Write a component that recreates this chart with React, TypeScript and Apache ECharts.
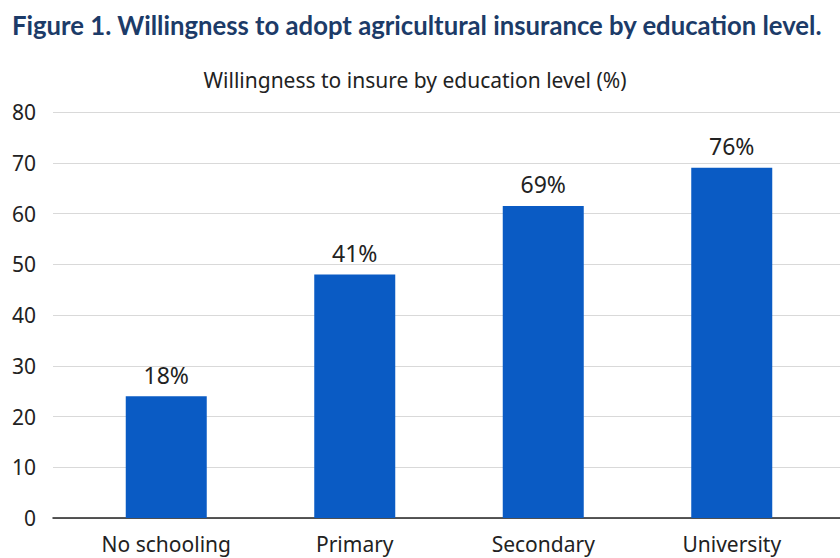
import React, { useEffect, useRef } from "react";
import * as echarts from "echarts";

const categories = ["No schooling", "Primary", "Secondary", "University"];
const barValues = [24, 48, 61.5, 69];
const barLabels = ["18%", "41%", "69%", "76%"];
const yMin = 0;
const yMax = 80;
const yInterval = 10;
const titleText = "Figure 1. Willingness to adopt agricultural insurance by education level.";
const subtitleText = "Willingness to insure by education level (%)";

export default function App() {
  const ref = useRef<HTMLDivElement>(null);
  useEffect(() => {
    if (!ref.current) return;
    const chart = echarts.init(ref.current, null, { renderer: "svg" });
    const font = "'Noto Sans', 'Open Sans', sans-serif";
    chart.setOption({
      animation: false,
      backgroundColor: "#ffffff",
      graphic: [
        {
          type: "text",
          x: 12,
          y: 25,
          style: {
            text: titleText,
            fontFamily: "Lato, 'Noto Sans', sans-serif",
            fontWeight: "bold",
            fontSize: 25.7,
            fill: "#1c3b68",
            textAlign: "left",
            textVerticalAlign: "middle",
          },
        },
        {
          type: "text",
          x: 415,
          y: 80,
          style: {
            text: subtitleText,
            fontFamily: font,
            fontSize: 21,
            fill: "#222222",
            textAlign: "center",
            textVerticalAlign: "middle",
          },
        },
      ],
      grid: [
        { left: 53, right: 0, top: 112, bottom: 40, containLabel: false },
        { left: 72, right: 14, top: 112, bottom: 40, containLabel: false },
      ],
      xAxis: [
        {
          type: "value",
          gridIndex: 0,
          min: 0,
          max: 1,
          axisLine: { show: true, onZero: false, lineStyle: { color: "#222222", width: 1.5 } },
          axisTick: { show: false },
          axisLabel: { show: false },
          splitLine: { show: false },
        },
        {
          type: "category",
          gridIndex: 1,
          data: categories,
          axisLine: { show: false },
          axisTick: { show: false },
          axisLabel: { fontSize: 21, color: "#222222", margin: 15, fontFamily: font },
        },
      ],
      yAxis: [
        {
          type: "value",
          gridIndex: 0,
          min: yMin,
          max: yMax,
          interval: yInterval,
          axisLine: { show: false },
          axisTick: { show: false },
          axisLabel: { fontSize: 21, color: "#222222", margin: 17, fontFamily: font },
          splitLine: { show: true, lineStyle: { color: "#d9d9d9", width: 1 } },
        },
        {
          type: "value",
          gridIndex: 1,
          min: yMin,
          max: yMax,
          interval: yInterval,
          show: false,
          splitLine: { show: false },
        },
      ],
      series: [
        {
          type: "bar",
          xAxisIndex: 1,
          yAxisIndex: 1,
          data: barValues,
          barWidth: 81,
          itemStyle: { color: "#0a5bc4" },
          label: {
            show: true,
            position: "top",
            distance: 10,
            fontSize: 23,
            color: "#222222",
            fontFamily: font,
            formatter: (p: any) => barLabels[p.dataIndex],
          },
        },
      ],
    });
    return () => chart.dispose();
  }, []);
  return (
    <div
      ref={ref}
      style={{ position: "fixed", left: 0, top: 0, width: 840, height: 558 }}
    />
  );
}
